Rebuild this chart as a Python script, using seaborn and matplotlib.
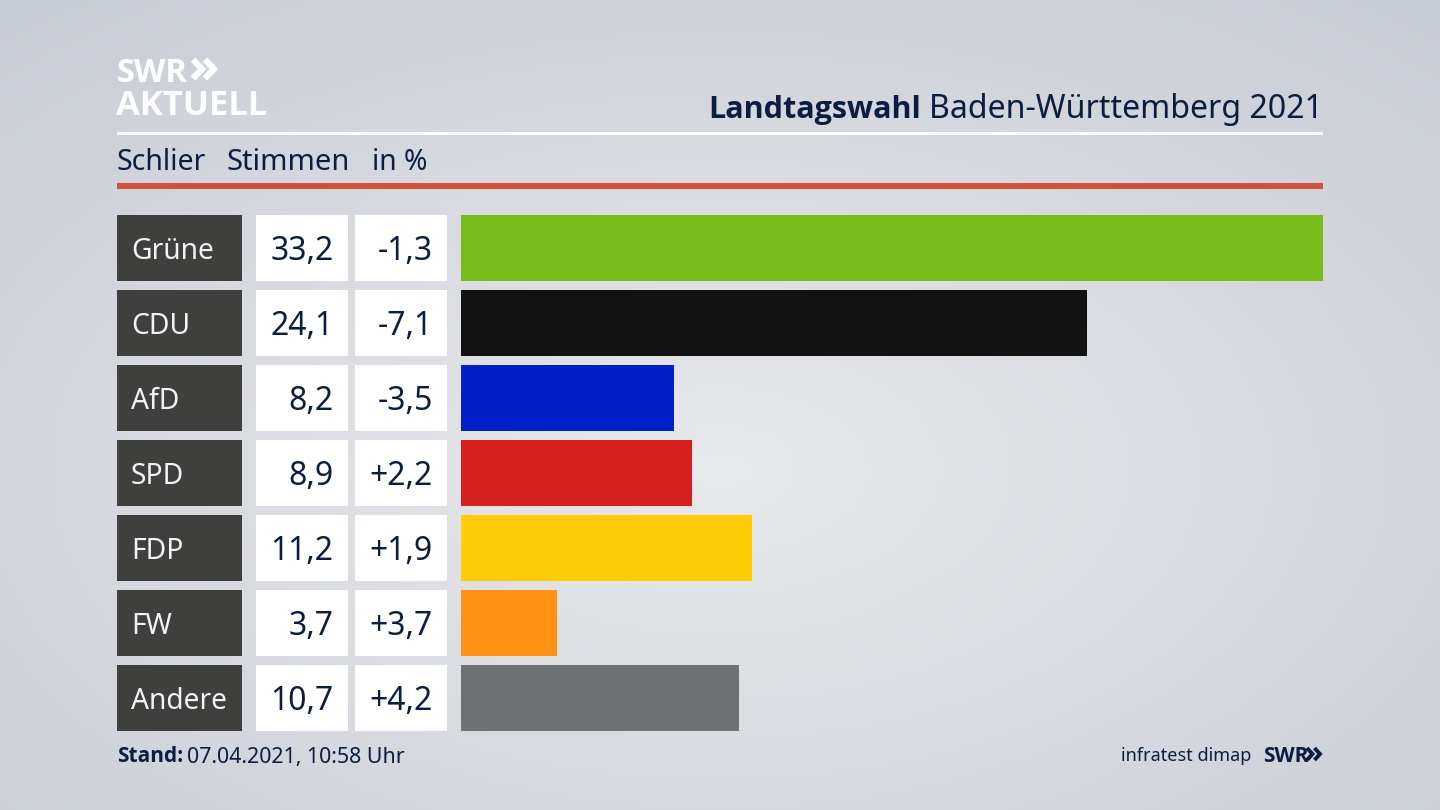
import numpy as np
import pandas as pd
import matplotlib
matplotlib.use('Agg')
import matplotlib.pyplot as plt
from matplotlib.patches import Rectangle
import seaborn as sns

parties = ['Grüne', 'CDU', 'AfD', 'SPD', 'FDP', 'FW', 'Andere']
stimmen = [33.2, 24.1, 8.2, 8.9, 11.2, 3.7, 10.7]
stimmen_text = ['33,2', '24,1', '8,2', '8,9', '11,2', '3,7', '10,7']
diff_text = ['-1,3', '-7,1', '-3,5', '+2,2', '+1,9', '+3,7', '+4,2']
colors = ['#78BC1B', '#121212', '#001FC8', '#D61F1F', '#FFCC08', '#FF9114', '#707173']

W, H = 1440, 810
navy = '#0C1E3F'
sns.set_theme(style='white')
plt.rcParams['font.family'] = ['Noto Sans', 'DejaVu Sans']
BOLD = ['Open Sans', 'DejaVu Sans']

fig = plt.figure(figsize=(W / 100, H / 100), dpi=100)

# hintergrund
bg = fig.add_axes([0, 0, 1, 1], zorder=0)
yy, xx = np.mgrid[0:1:200j, 0:1:356j]
r = np.sqrt(((xx - 0.5) / 0.75) ** 2 + ((yy - 0.58) / 0.75) ** 2)
shade = np.clip(r, 0, 1)
c0 = np.array([232, 233, 236]) / 255
c1 = np.array([200, 204, 212]) / 255
bg.imshow(c0 + (c1 - c0) * shade[..., None], aspect='auto', extent=[0, W, H, 0])
bg.set_xlim(0, W)
bg.set_ylim(H, 0)
bg.axis('off')


def box(x0, y0, x1, y1, color):
    bg.add_patch(Rectangle((x0, y0), x1 - x0, y1 - y0, color=color, lw=0))


def label(x, y, s, size=23, color=navy, **kw):
    kw.setdefault('va', 'center')
    bg.text(x, y, s, fontsize=size, color=color, **kw)


def bold(x, y, s, size, color=navy, **kw):
    label(x, y, s, size, color, family=BOLD, fontweight='bold', **kw)


def chevron(x0, y_mid, w, h, lw, color):
    # pfeile vom swr logo
    bg.plot([x0, x0 + w, x0], [y_mid - h / 2, y_mid, y_mid + h / 2],
            color=color, lw=lw, solid_joinstyle='miter', solid_capstyle='butt')


# kopf
bold(117, 73, 'SWR', 23.5, 'white')
chevron(193, 69, 9, 19, 4.5, 'white')
chevron(205, 69, 9, 19, 4.5, 'white')
bold(116, 106, 'AKTUELL', 24.8, 'white')
box(117, 132, 1323, 135, 'white')
box(117, 183, 1323, 189, '#CF5238')
label(1323, 110, 'Baden-Württemberg 2021', 23.1, ha='right')
bold(921, 110, 'Landtagswahl', 22, ha='right')
label(117, 163, 'Schlier', 20.5)
label(227, 163, 'Stimmen', 21)
label(372, 163, 'in %', 20.3)

# tabelle
row_tops = [215, 290, 365, 440, 515, 590, 665]
row_h = 66.3
for top, p, s, d in zip(row_tops, parties, stimmen_text, diff_text):
    box(117, top, 241.5, top + row_h, '#3F3F3D')
    box(255.5, top, 348, top + row_h, 'white')
    box(355, top, 447, top + row_h, 'white')
    mid = top + row_h / 2 + 3
    label(131, mid, p, 20.3, '#F2F2F2')
    label(333.5, mid, s, 23, ha='right')
    label(433, mid, d, 23, ha='right')

# balken
df = pd.DataFrame({'partei': parties, 'stimmen': stimmen})
ax = fig.add_axes([461 / W, 1 - 735.65 / H, (1323 - 461) / W, 525 / H], zorder=1)
ax.patch.set_alpha(0)
sns.barplot(data=df, y='partei', x='stimmen', hue='partei', palette=colors,
            legend=False, width=0.884, saturation=1, linewidth=0, ax=ax)
ax.set_xlim(0, 33.2)
ax.set_ylim(6.5, -0.5)
ax.axis('off')

# fuss
bold(117, 757, 'Stand:', 15)
label(187, 757, '07.04.2021, 10:58 Uhr', 15.4)
label(1251, 756, 'infratest dimap', 13, ha='right')
bold(1263, 756, 'SWR', 15)
chevron(1307, 754, 5.5, 12, 2.8, navy)
chevron(1314.5, 754, 5.5, 12, 2.8, navy)

fig.savefig('out.png', dpi=100)
